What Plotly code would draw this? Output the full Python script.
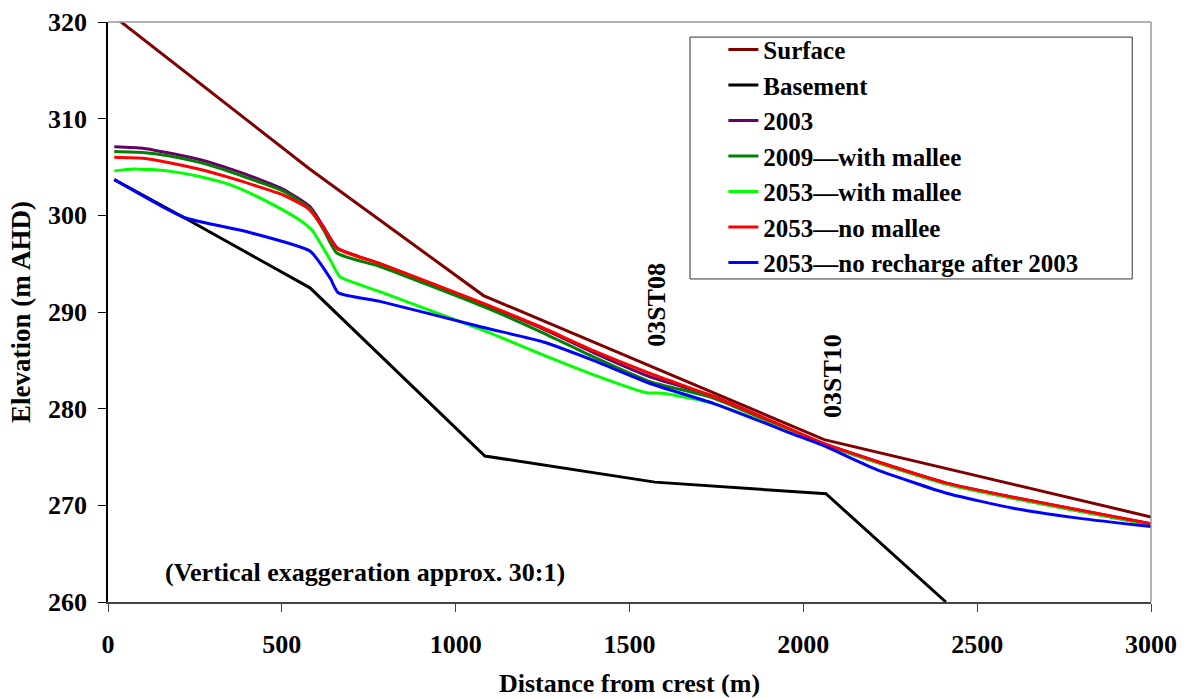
import plotly.graph_objects as go

# ---- data ----
surface_x = [20, 580, 1080, 2060, 3000]
surface_y = [320.5, 304.8, 291.7, 276.8, 268.8]

basement_x = [18, 217, 581, 1084, 1573, 2045, 2065, 2410]
basement_y = [303.7, 299.8, 292.5, 275.1, 272.4, 271.3, 271.2, 260.0]

y2003_x = [18, 100, 169, 260, 360, 430, 504, 581, 620, 660, 782, 1080, 1242, 1396, 1559, 1741, 1990, 2057, 2412, 3000]
y2003_y = [307.1, 306.95, 306.5, 305.8, 304.7, 303.8, 302.7, 300.9, 298.8, 296.6, 295.0, 290.8, 288.4, 285.8, 283.3, 281.3, 277.4, 276.4, 272.3, 268.1]

y2009_x = [18, 100, 169, 260, 360, 430, 504, 581, 620, 658, 782, 1080, 1242, 1396, 1559, 1741, 1990, 2057, 2412, 3000]
y2009_y = [306.6, 306.5, 306.2, 305.5, 304.4, 303.5, 302.5, 300.7, 298.5, 296.1, 294.7, 290.55, 288.0, 285.35, 282.8, 281.1, 277.3, 276.3, 272.2, 268.0]

w2053_x = [18, 73, 170, 265, 340, 408, 480, 552, 586, 639, 667, 782, 1080, 1242, 1405, 1549, 1597, 1741, 1990, 2057, 2412, 3000]
w2053_y = [304.6, 304.8, 304.6, 304.0, 303.3, 302.3, 301.0, 299.5, 298.5, 295.4, 293.65, 292.1, 288.1, 285.7, 283.4, 281.65, 281.6, 280.55, 277.2, 276.3, 272.2, 268.0]

n2053_x = [18, 100, 169, 260, 360, 430, 504, 576, 620, 658, 782, 1080, 1242, 1396, 1559, 1741, 1990, 2057, 2412, 3000]
n2053_y = [306.0, 305.9, 305.5, 304.8, 303.8, 303.0, 302.1, 300.7, 298.7, 296.6, 295.0, 290.9, 288.5, 286.0, 283.65, 281.25, 277.45, 276.4, 272.3, 268.1]

r2053_x = [18, 217, 400, 581, 639, 662, 782, 1080, 1252, 1396, 1559, 1741, 1990, 2057, 2211, 2412, 2604, 2796, 3000]
r2053_y = [303.7, 299.8, 298.3, 296.3, 293.5, 292.0, 291.1, 288.4, 286.9, 285.0, 282.6, 280.55, 277.1, 276.2, 273.7, 271.25, 269.7, 268.65, 267.8]

series = [
    ("Surface", surface_x, surface_y, "#800000", "linear"),
    ("Basement", basement_x, basement_y, "#000000", "linear"),
    ("2003", y2003_x, y2003_y, "#660066", "spline"),
    ("2009\u2014with mallee", y2009_x, y2009_y, "#008000", "spline"),
    ("2053\u2014with mallee", w2053_x, w2053_y, "#00FF00", "spline"),
    ("2053\u2014no mallee", n2053_x, n2053_y, "#FF0000", "spline"),
    ("2053\u2014no recharge after 2003", r2053_x, r2053_y, "#0000FF", "spline"),
]

x_ticks = [0, 500, 1000, 1500, 2000, 2500, 3000]
y_ticks = [260, 270, 280, 290, 300, 310, 320]

labels = [("03ST08", 1578, 290.7), ("03ST10", 2086, 283.4)]
note = ("(Vertical exaggeration approx. 30:1)", 740, 263.1)

FONT = "Liberation Serif"

fig = go.Figure()
for name, xs, ys, col, shape in series:
    fig.add_trace(go.Scatter(x=xs, y=ys, mode="lines", name=name,
                             line=dict(color=col, width=3, shape=shape, smoothing=0.5)))

for txt, x, y in labels:
    fig.add_annotation(x=x, y=y, text=f"<b>{txt}</b>", showarrow=False, textangle=-90,
                       font=dict(family=FONT, size=26, color="black"))
fig.add_annotation(x=note[1], y=note[2], text=f"<b>{note[0]}</b>", showarrow=False,
                   font=dict(family=FONT, size=26, color="black"))

# top and right frame lines
fig.add_shape(type="line", xref="paper", yref="paper", x0=0, x1=1, y0=1, y1=1,
              line=dict(color="#999999", width=1.5))
fig.add_shape(type="line", xref="paper", yref="paper", x0=1, x1=1, y0=0, y1=1,
              line=dict(color="#999999", width=1.5))
# legend box
fig.add_shape(type="rect", xref="paper", yref="paper", x0=0.558, x1=0.982, y0=0.557, y1=0.974,
              line=dict(color="#333333", width=1), fillcolor="white", layer="below")

fig.update_layout(
    width=1186, height=698,
    margin=dict(l=108, r=35, t=22, b=96),
    paper_bgcolor="white", plot_bgcolor="white",
    font=dict(family=FONT, size=26, color="black"),
    showlegend=True,
    legend=dict(x=0.590, y=0.992, xanchor="left", yanchor="top",
                bgcolor="rgba(0,0,0,0)", borderwidth=0,
                font=dict(family=FONT, size=25, color="black", weight="bold"),
                tracegroupgap=0, itemwidth=30),
    xaxis=dict(range=[0, 3000], tickvals=x_ticks, ticktext=[f"<b>{v}</b>" for v in x_ticks],
               showgrid=False, zeroline=False, showline=True, linecolor="#444444", linewidth=2,
               ticks="outside", ticklen=8, tickcolor="#444444", ticklabelstandoff=10,
               tickfont=dict(family=FONT, size=26), automargin=False,
               title=dict(text="<b>Distance from crest (m)</b>", font=dict(family=FONT, size=26), standoff=19)),
    yaxis=dict(range=[260, 320], tickvals=y_ticks, ticktext=[f"<b>{v}</b>" for v in y_ticks],
               showgrid=False, zeroline=False, showline=True, linecolor="black", linewidth=1.5,
               ticks="outside", ticklen=8, tickcolor="black", ticklabelstandoff=6,
               tickfont=dict(family=FONT, size=26), automargin=False,
               title=dict(text="<b>Elevation (m AHD)</b>", font=dict(family=FONT, size=27), standoff=10)),
)

fig.write_html("out.html")
